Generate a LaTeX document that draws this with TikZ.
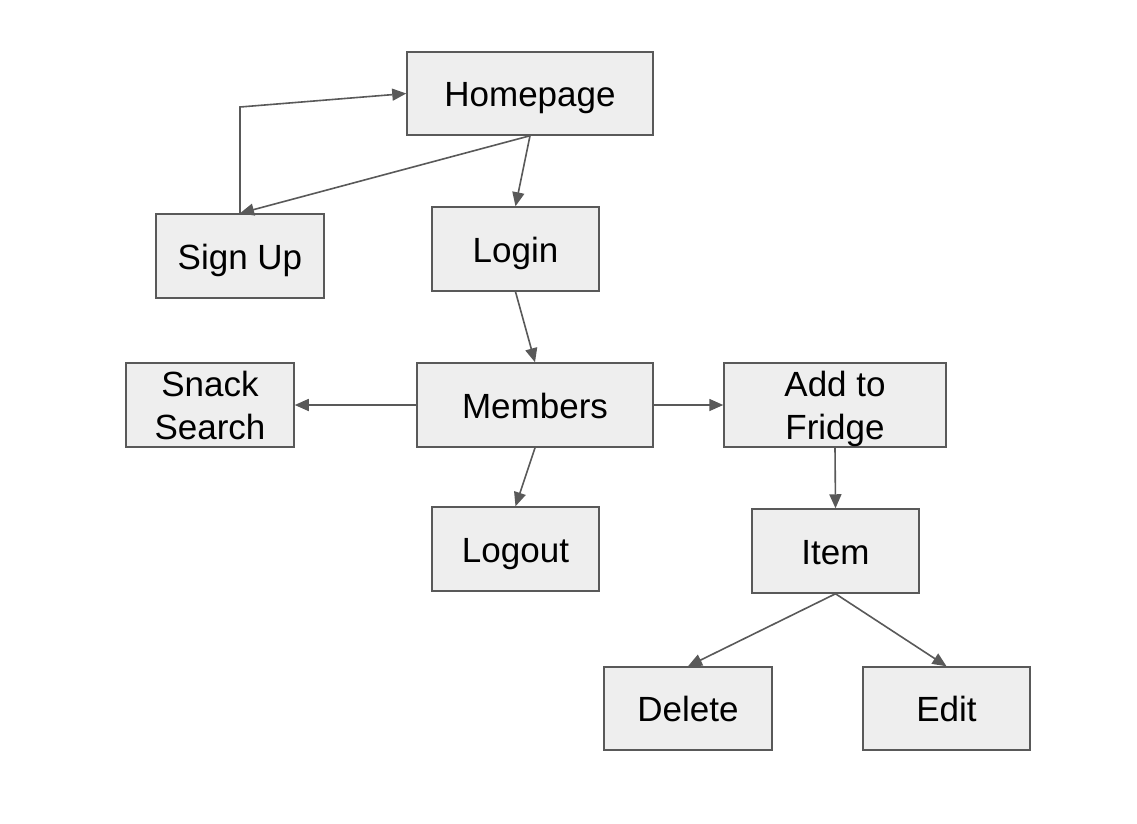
\documentclass[tikz,border=0pt]{standalone}
\usepackage{fontspec}
\setmainfont{Liberation Sans}
\usetikzlibrary{arrows.meta}
\definecolor{boxfill}{HTML}{EEEEEE}
\definecolor{boxline}{HTML}{595959}
\begin{document}
\begin{tikzpicture}[x=1pt,y=-1pt,
  box/.style={draw=boxline,fill=boxfill,line width=1.5pt,inner sep=0pt,align=center,
    font=\fontsize{35}{43}\selectfont},
  oneline/.style={box,text height=26.5pt,text depth=0pt},
  conn/.style={draw=boxline,line width=1.6pt,-{Triangle[length=14pt,width=12pt]}}]
\useasboundingbox (0,0) rectangle (1137,823);
\fill[white] (0,0) rectangle (1137,823);
\node[oneline,minimum width=246pt,minimum height=83pt] (home) at (530,93.5) {Homepage};
\node[oneline,minimum width=168pt,minimum height=84pt] (signup) at (240,256) {Sign Up};
\node[oneline,minimum width=167pt,minimum height=84pt] (login) at (515.5,249) {Login};
\node[box,minimum width=168pt,minimum height=84pt] (snack) at (210,405) {Snack\\Search};
\node[oneline,minimum width=236pt,minimum height=84pt] (members) at (535,405) {Members};
\node[box,minimum width=222pt,minimum height=84pt] (add) at (835,405) {Add to\\\raisebox{0pt}[\height][0pt]{Fridge}};
\node[oneline,minimum width=167pt,minimum height=84pt] (logout) at (515.5,549) {Logout};
\node[oneline,minimum width=167pt,minimum height=84pt] (item) at (835.5,551) {Item};
\node[oneline,minimum width=168pt,minimum height=83pt] (delete) at (688,708.5) {Delete};
\node[oneline,minimum width=167pt,minimum height=83pt] (edit) at (946.5,708.5) {Edit};
\coordinate (bend) at (240,107);
\draw[conn] (home.south) -- (login.north);
\draw[conn] (home.south) -- (signup.north);
\draw[conn] (signup.north) -- (bend) -- (home.west);
\draw[conn] (login.south) -- (members.north);
\draw[conn] (members.west) -- (snack.east);
\draw[conn] (members.east) -- (add.west);
\draw[conn] (members.south) -- (logout.north);
\draw[conn] (add.south) -- (item.north);
\draw[conn] (item.south) -- (delete.north);
\draw[conn] (item.south) -- (edit.north);
\end{tikzpicture}
\end{document}
